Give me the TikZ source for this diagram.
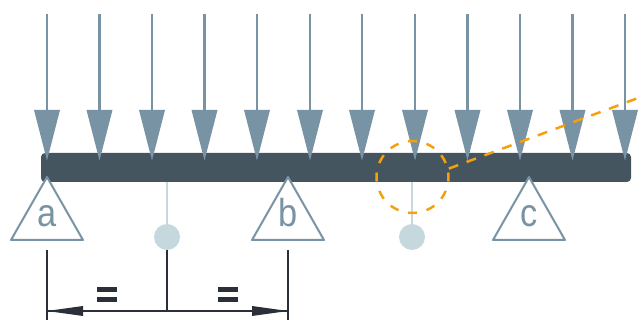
\documentclass[tikz,border=0pt]{standalone}
\usepackage{fontspec}
\setmainfont{Liberation Sans}
\usetikzlibrary{arrows.meta}
\definecolor{steel}{HTML}{7893A4}
\definecolor{beam}{HTML}{455560}
\definecolor{pale}{HTML}{C5D8DE}
\definecolor{ink}{HTML}{2B3038}
\definecolor{amber}{HTML}{F5A00F}
\tikzset{
  load/.style={draw=steel,line width=2.3pt},
  loadhead/.style={fill=steel,draw=none},
  support/.style={draw=steel,line width=2pt,line join=round,fill=white},
  suplabel/.style={text=steel,inner sep=0pt,font=\fontsize{39}{39}\selectfont,xscale=.88},
  stem/.style={draw=pale,line width=2.3pt},
  joint/.style={circle,fill=pale,draw=none,minimum size=26pt,inner sep=0pt},
  dim/.style={draw=ink,line width=2pt},
  dimhead/.style={fill=ink,draw=none},
  guide/.style={draw=amber,line width=2.5pt},
}
\begin{document}
\begin{tikzpicture}[x=1pt,y=-1pt]
\useasboundingbox (0,0) rectangle (638,320);
% loads
\foreach \i/\x in {1/47,2/99.5,3/152,4/204.5,5/257,6/310,7/362,8/415,9/467.5,10/520,11/572.5,12/625}{
  \coordinate (t\i) at (\x,14);
  \coordinate (h\i) at (\x,112);
  \draw[load] (t\i) -- (h\i);
}
% beam
\node[fill=beam,draw=none,rounded corners=4pt,minimum width=590pt,minimum height=29pt,inner sep=0pt] (B) at (336,167.5) {};
\foreach \i/\x in {1/47,2/99.5,3/152,4/204.5,5/257,6/310,7/362,8/415,9/467.5,10/520,11/572.5,12/625}{
  \fill[loadhead] (\x-13,110) -- (\x+13,110) -- (\x,160.5) -- cycle;
}
% supports
\foreach \n/\x in {a/47,b/288,c/529}{
  \draw[support] (\x,177) -- (\x+36,240) -- (\x-36,240) -- cycle;
  \node[suplabel,anchor=base] (l\n) at (\x,227) {\n};
}
% joints
\node[joint] (j1) at (167,237) {};
\node[joint] (j2) at (412,237) {};
\coordinate (s1) at (167,182);
\coordinate (s2) at (412,182);
\draw[stem] (s1) -- (j1);
\draw[stem] (s2) -- (j2);
% detail circle and leader
\node[circle,minimum size=72pt,inner sep=0pt,guide,dash pattern=on 9pt off 9.85pt,dash phase=4.5pt] (D) at (412.5,177) {};
\coordinate (e) at (652,92.8);
\draw[guide,dash pattern=on 10pt off 9pt] (D.13) -- (e);
% dimensions
\coordinate (d1) at (47,250);
\coordinate (d1b) at (47,320);
\coordinate (d2) at (167,250);
\coordinate (d2b) at (167,311);
\coordinate (d3) at (288,250);
\coordinate (d3b) at (288,320);
\draw[dim] (d1) -- (d1b);
\draw[dim] (d2) -- (d2b);
\draw[dim] (d3) -- (d3b);
\coordinate (m1) at (47,311);
\coordinate (m2) at (288,311);
\draw[dim] (m1) -- (m2);
\fill[dimhead] (m1) -- (83,306) -- (83,316) -- cycle;
\fill[dimhead] (m2) -- (252,306) -- (252,316) -- cycle;
\foreach \x in {97,218}{
  \fill[dimhead] (\x,287) rectangle (\x+20,292.2);
  \fill[dimhead] (\x,296.8) rectangle (\x+20,302);
}
\end{tikzpicture}
\end{document}
